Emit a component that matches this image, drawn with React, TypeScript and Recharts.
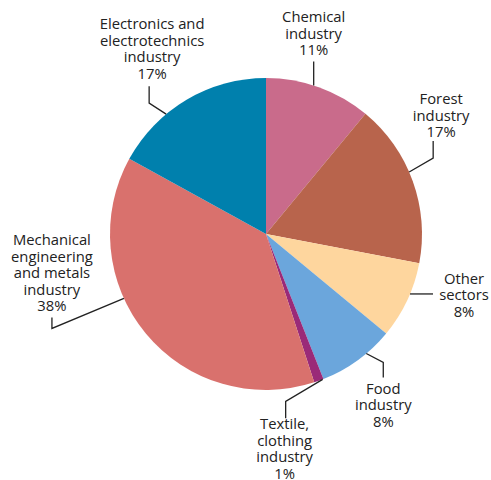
import { PieChart, Pie, Cell } from 'recharts';

const SECTORS = [
  'Chemical industry',
  'Forest industry',
  'Other sectors',
  'Food industry',
  'Textile, clothing industry',
  'Mechanical engineering and metals industry',
  'Electronics and electrotechnics industry',
];

// label text broken into lines as in the original
const LABEL_LINES = [
  ['Chemical', 'industry'],
  ['Forest', 'industry'],
  ['Other', 'sectors'],
  ['Food', 'industry'],
  ['Textile,', 'clothing', 'industry'],
  ['Mechanical', 'engineering', 'and metals', 'industry'],
  ['Electronics and', 'electrotechnics', 'industry'],
];

const SHARES = [11, 17, 8, 8, 1, 38, 17];

const COLORS = ['#c96b8b', '#b8644c', '#fed69e', '#6ba6dc', '#9a2a78', '#d9716d', '#0080ad'];

// leader line / label placement: shift (deg clockwise from mid angle),
// elbow + end offsets from the edge point, text offset from the end point
const LAYOUT = [
  { shift: -2, elbow: [0, -12], end: [0, -24], text: [0, -44] },
  { shift: -3.6, elbow: [24, -14], end: [24, -31], text: [8, -42] },
  { shift: -2.6, elbow: [12, 0], end: [23, 0], text: [31, -15] },
  { shift: -4, elbow: [17, 9], end: [17, 24], text: [0, 11] },
  { shift: -1.5, elbow: [-37, 22], end: [-37, 39], text: [-1, 6] },
  { shift: 15.2, elbow: [-72, 30], end: [-72, 19], text: [0, -77] },
  { shift: -9.2, elbow: [-17, -11], end: [-17, -28], text: [3, -62] },
];

const LINE_H = 16.5;
const RAD = Math.PI / 180;

const data = SECTORS.map((name, i) => ({ name, value: SHARES[i] }));

function renderLabel(props: any) {
  const { cx, cy, midAngle, outerRadius, index } = props;
  const lay = LAYOUT[index];
  const a = (midAngle - lay.shift) * RAD;
  const x0 = cx + outerRadius * Math.cos(-a);
  const y0 = cy + outerRadius * Math.sin(-a);
  const ex = x0 + lay.elbow[0];
  const ey = y0 + lay.elbow[1];
  const tx = x0 + lay.end[0];
  const ty = y0 + lay.end[1];
  const lines = [...LABEL_LINES[index], `${SHARES[index]}%`];
  const lx = tx + lay.text[0];
  const ly = ty + lay.text[1];
  return (
    <g key={`lbl-${index}`}>
      <polyline
        points={`${x0},${y0} ${ex},${ey} ${tx},${ty}`}
        fill="none"
        stroke="#222"
        strokeWidth={1.3}
      />
      <text
        x={lx}
        y={ly + 5}
        textAnchor="middle"
        fontFamily="'Open Sans', sans-serif"
        fontSize={14.8}
        fill="#222"
      >
        {lines.map((t, j) => (
          <tspan key={j} x={lx} dy={j === 0 ? 0 : LINE_H}>
            {t}
          </tspan>
        ))}
      </text>
    </g>
  );
}

export default function App() {
  return (
    <div style={{ position: 'absolute', left: 0, top: 0, width: 491, height: 480, background: '#fff' }}>
      <PieChart width={491} height={480} margin={{ top: 0, right: 0, bottom: 0, left: 0 }}>
        <Pie
          data={data}
          dataKey="value"
          nameKey="name"
          cx={266}
          cy={234}
          outerRadius={156}
          startAngle={90}
          endAngle={-270}
          stroke="none"
          label={renderLabel}
          labelLine={false}
          isAnimationActive={false}
        >
          {data.map((d, i) => (
            <Cell key={d.name} fill={COLORS[i]} />
          ))}
        </Pie>
      </PieChart>
    </div>
  );
}
